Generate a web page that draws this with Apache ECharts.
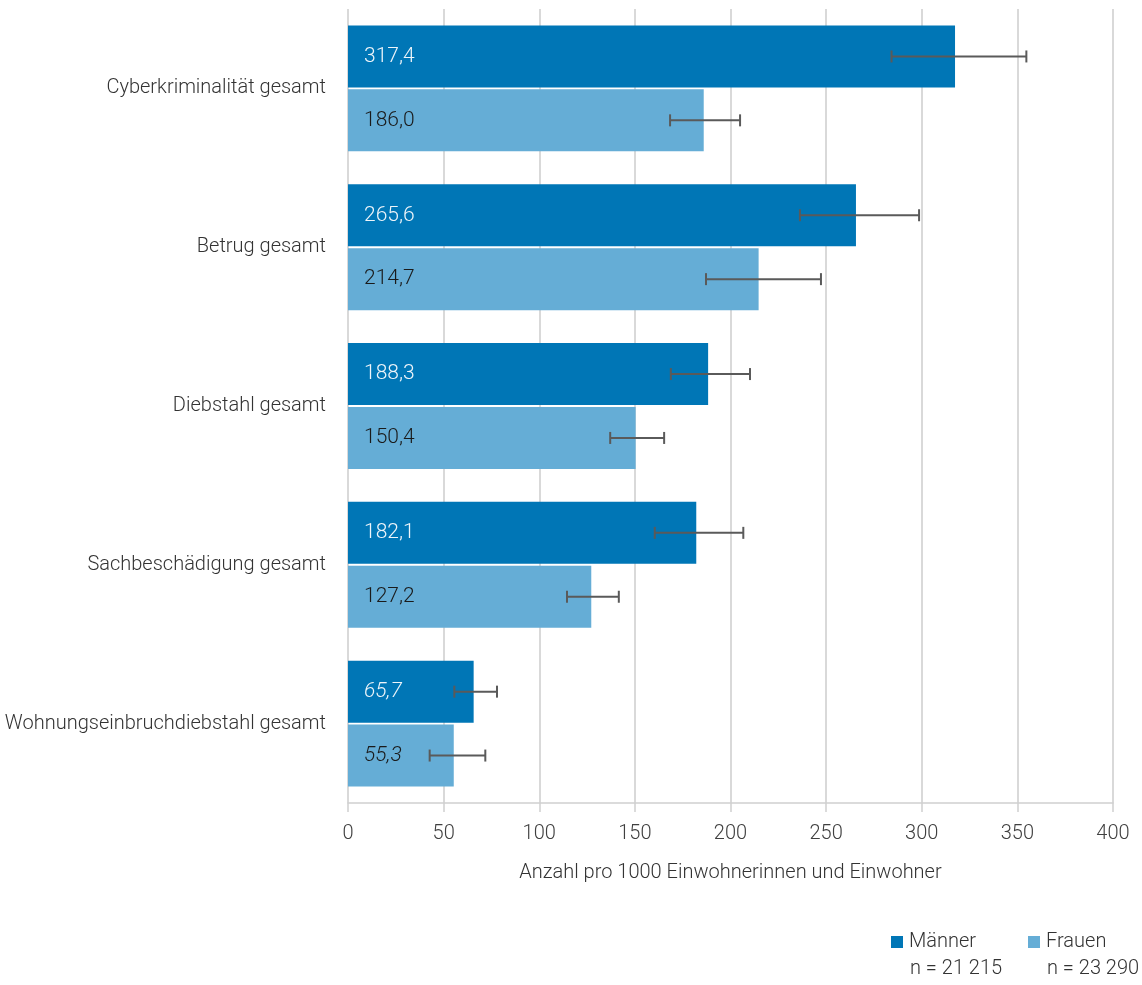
<!DOCTYPE html>
<html><head><meta charset="utf-8">
<script src="https://cdn.jsdelivr.net/npm/echarts@6/dist/echarts.min.js"></script>
<style>html,body{margin:0;padding:0;background:#fff}#c{width:1142px;height:985px}</style>
</head><body><div id="c"></div>
<script>
const categories = ['Cyberkriminalität gesamt','Betrug gesamt','Diebstahl gesamt','Sachbeschädigung gesamt','Wohnungseinbruchdiebstahl gesamt'];
const maenner = [317.4, 265.6, 188.3, 182.1, 65.7];
const frauen = [186.0, 214.7, 150.4, 127.2, 55.3];
const maennerLow = [284.2, 236.3, 168.8, 160.4, 55.6];
const maennerHigh = [354.7, 298.6, 210.2, 206.7, 77.9];
const frauenLow = [168.4, 187.2, 137.1, 114.5, 42.7];
const frauenHigh = [205.0, 247.3, 165.3, 141.6, 71.8];
const italicCats = [false, false, false, false, true];
const seriesNames = ['Männer', 'Frauen'];
const sampleSizes = ['n = 21 215', 'n = 23 290'];
const xTicks = {min: 0, max: 400, interval: 50};

const FONT = 'Roboto, sans-serif';
const FW = 300;
const C_M = '#0076b6', C_F = '#65add6';
const CAT_GAP = 0.207, BAR_GAP = 0.03;

const fmt = v => v.toFixed(1).replace('.', ',');

function errSeries(lows, highs, dir) {
  return {
    type: 'custom',
    silent: true,
    z: 5,
    data: lows.map((l, i) => [i, l, highs[i]]),
    encode: {y: 0, x: [1, 2]},
    renderItem: function (params, api) {
      const i = api.value(0);
      const p1 = api.coord([api.value(1), i]);
      const p2 = api.coord([api.value(2), i]);
      const band = api.size([0, 1])[1];
      const w = band * (1 - CAT_GAP) / (2 + BAR_GAP);
      const off = w * (1 + BAR_GAP) / 2 * dir;
      const y = p1[1] + off;
      const cap = 6;
      const st = {stroke: '#5a5a5a', lineWidth: 2};
      return {
        type: 'group',
        children: [
          {type: 'line', shape: {x1: p1[0], y1: y, x2: p2[0], y2: y}, style: st},
          {type: 'line', shape: {x1: p1[0], y1: y - cap, x2: p1[0], y2: y + cap}, style: st},
          {type: 'line', shape: {x1: p2[0], y1: y - cap, x2: p2[0], y2: y + cap}, style: st}
        ]
      };
    }
  };
}

function barData(vals) {
  return vals.map((v, i) => ({
    value: v,
    label: {fontStyle: italicCats[i] ? 'italic' : 'normal'}
  }));
}

const chart = echarts.init(document.getElementById('c'), null, {renderer: 'canvas'});
chart.setOption({
  animation: false,
  textStyle: {fontFamily: FONT, fontWeight: FW},
  grid: {left: 348, right: 29, top: 9, bottom: 182, containLabel: false},
  xAxis: {
    type: 'value', min: xTicks.min, max: xTicks.max, interval: xTicks.interval,
    name: 'Anzahl pro 1000 Einwohnerinnen und Einwohner',
    nameLocation: 'middle', nameGap: 60,
    nameTextStyle: {fontFamily: FONT, fontWeight: FW, fontSize: 20, color: '#333'},
    axisLine: {show: true, lineStyle: {color: '#cfcfcf', width: 1.5}},
    axisTick: {show: true, length: 9, lineStyle: {color: '#cfcfcf', width: 1.5}},
    axisLabel: {fontFamily: FONT, fontWeight: FW, fontSize: 20, color: '#404040', margin: 21},
    splitLine: {show: true, lineStyle: {color: '#d9d9d9', width: 2}}
  },
  yAxis: {
    type: 'category', data: categories, inverse: true,
    axisLine: {show: false}, axisTick: {show: false},
    axisLabel: {fontFamily: FONT, fontWeight: FW, fontSize: 20, color: '#333', margin: 22}
  },
  legend: [
    {data: [seriesNames[0]], left: 891, top: 932, itemWidth: 12, itemHeight: 12, padding: 0,
     icon: 'rect', textStyle: {fontFamily: FONT, fontWeight: FW, fontSize: 20, color: '#333', padding: [0, 0, 0, 1]}, itemGap: 6},
    {data: [seriesNames[1]], left: 1028, top: 932, itemWidth: 12, itemHeight: 12, padding: 0,
     icon: 'rect', textStyle: {fontFamily: FONT, fontWeight: FW, fontSize: 20, color: '#333', padding: [0, 0, 0, 1]}, itemGap: 6}
  ],
  graphic: [
    {type: 'text', left: 910, top: 959, style: {text: sampleSizes[0], font: FW + ' 20px ' + FONT, fill: '#333'}},
    {type: 'text', left: 1047, top: 959, style: {text: sampleSizes[1], font: FW + ' 20px ' + FONT, fill: '#333'}}
  ],
  series: [
    {
      name: seriesNames[0], type: 'bar', data: barData(maenner),
      barCategoryGap: (CAT_GAP * 100) + '%', barGap: (BAR_GAP * 100) + '%',
      itemStyle: {color: C_M},
      label: {show: true, position: 'insideLeft', distance: 16, formatter: p => fmt(p.value),
              fontFamily: FONT, fontWeight: FW, fontSize: 21, color: '#eef5fa'}
    },
    {
      name: seriesNames[1], type: 'bar', data: barData(frauen),
      barCategoryGap: (CAT_GAP * 100) + '%', barGap: (BAR_GAP * 100) + '%',
      itemStyle: {color: C_F},
      label: {show: true, position: 'insideLeft', distance: 16, formatter: p => fmt(p.value),
              fontFamily: FONT, fontWeight: FW, fontSize: 21, color: '#1a1a1a'}
    },
    errSeries(maennerLow, maennerHigh, -1),
    errSeries(frauenLow, frauenHigh, 1)
  ]
});
</script></body></html>
